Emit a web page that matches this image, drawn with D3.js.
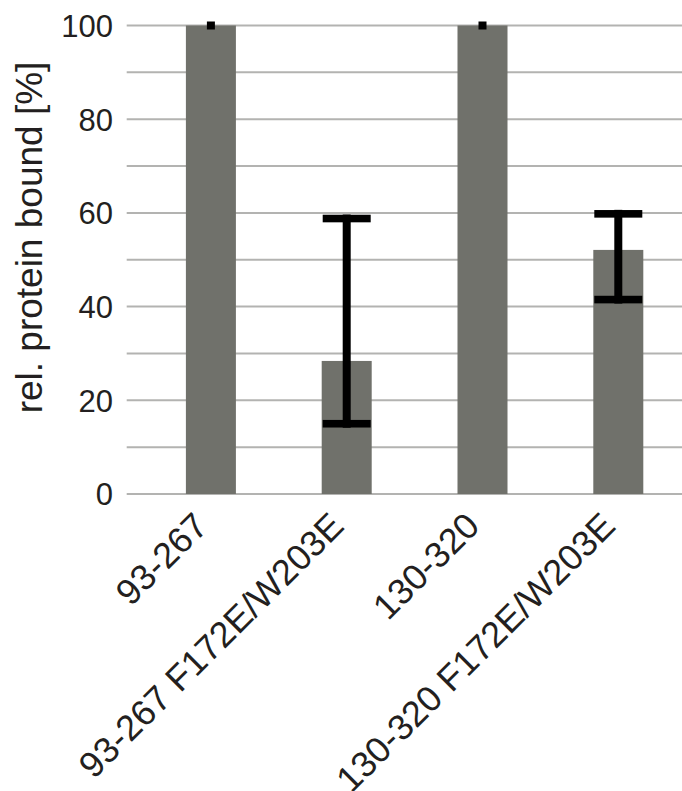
<!DOCTYPE html>
<html><head><meta charset="utf-8">
<script src="https://cdn.jsdelivr.net/npm/d3@7"></script>
<style>html,body{margin:0;padding:0;background:#fff;}svg{display:block;}</style>
</head><body>
<script>
const categories = ["93-267", "93-267 F172E/W203E", "130-320", "130-320 F172E/W203E"];
const values = [100, 28.4, 100, 52.1];
const errLow = [100, 15.0, 100, 41.5];
const errHigh = [100, 58.8, 100, 59.8];
const yTicks = [0, 20, 40, 60, 80, 100];
const gridTicks = [0, 10, 20, 30, 40, 50, 60, 70, 80, 90, 100];
const yTitle = "rel. protein bound [%]";

const W = 682, H = 791;
const svg = d3.select("body").append("svg").attr("width", W).attr("height", H);
const font = "'Liberation Sans', Arial, sans-serif";

const y = d3.scaleLinear().domain([0, 100]).range([494, 25.5]);
const x = d3.scalePoint().domain(categories).range([143, 686.2]).padding(0.5);
const gridX0 = 126.7, gridX1 = 682;
const barW = 50;

// gridlines
svg.append("g").selectAll("line").data(gridTicks).join("line")
  .attr("x1", gridX0).attr("x2", gridX1)
  .attr("y1", d => y(d)).attr("y2", d => y(d))
  .attr("stroke", "#b3b3b1").attr("stroke-width", 2);

// y axis labels via d3 axis
const yAxis = d3.axisLeft(y).tickValues(yTicks).tickSize(0).tickPadding(0).tickFormat(d3.format("d"));
const gy = svg.append("g").attr("transform", "translate(113,0)").call(yAxis);
gy.select(".domain").remove();
gy.selectAll("text").attr("font-family", font).attr("font-size", 31).attr("fill", "#231f20").attr("dy", "0.35em");

// bars
const data = categories.map((c, i) => ({c, v: values[i], lo: errLow[i], hi: errHigh[i]}));
svg.append("g").selectAll("rect").data(data).join("rect")
  .attr("x", d => x(d.c) - barW / 2).attr("width", barW)
  .attr("y", d => y(d.v)).attr("height", d => y(0) - y(d.v))
  .attr("fill", "#70716b");

// error bars
const eg = svg.append("g");
data.forEach(d => {
  const cx = x(d.c);
  eg.append("rect").attr("x", cx - 4).attr("width", 8)
    .attr("y", y(d.hi) - 4).attr("height", y(d.lo) - y(d.hi) + 8).attr("fill", "#000");
  if (d.hi > d.lo) {
    [d.lo, d.hi].forEach(v => {
      eg.append("rect").attr("x", cx - 24).attr("width", 48)
        .attr("y", y(v) - 3.8).attr("height", 7.6).attr("fill", "#000");
    });
  }
});

// x labels
svg.append("g").selectAll("text").data(categories).join("text")
  .attr("transform", d => `translate(${x(d) - 1},528) rotate(-45)`)
  .attr("text-anchor", "end")
  .attr("font-family", font).attr("font-size", 36).attr("fill", "#231f20")
  .text(d => d);

// y title
svg.append("text")
  .attr("transform", "translate(42,237.5) rotate(-90)")
  .attr("text-anchor", "middle")
  .attr("font-family", font).attr("font-size", 37).attr("fill", "#231f20")
  .text(yTitle);
</script>
</body></html>
